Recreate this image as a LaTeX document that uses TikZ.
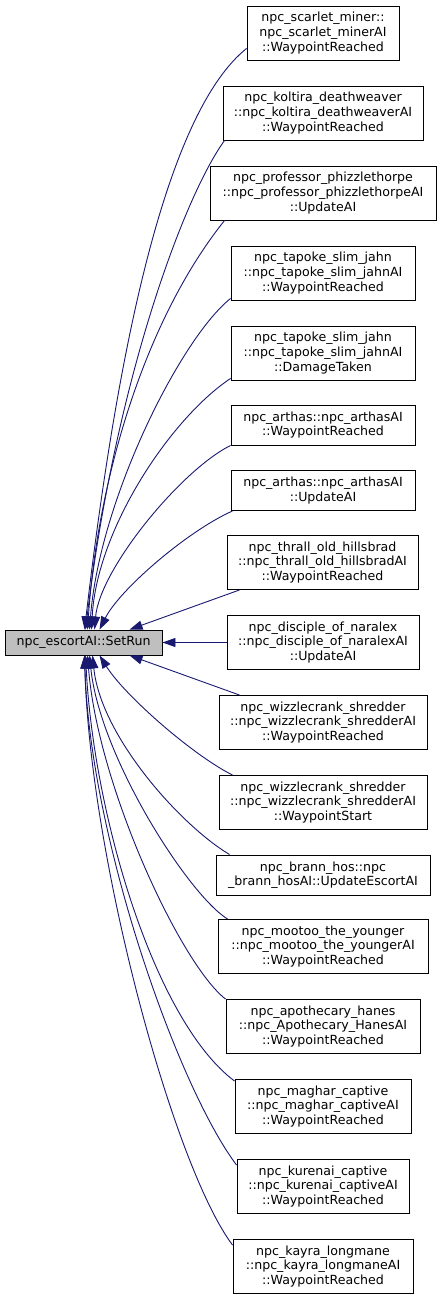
\documentclass[tikz,border=0pt]{standalone}
\usepackage{fontspec}
\setmainfont{DejaVu Sans}
\usetikzlibrary{arrows.meta,positioning}
\definecolor{cgEdge}{HTML}{191970}
\definecolor{cgRoot}{HTML}{BFBFBF}
\tikzset{
  fnnode/.style={
    draw=black, line width=0.9pt, inner sep=0pt, align=center,
    font=\fontsize{12.6}{14.6}\selectfont, minimum height=54pt
  },
  fnbox/.style={fnnode, fill=white},
  fnshort/.style={fnbox, minimum height=40pt},
  rootbox/.style={fnnode, fill=cgRoot, minimum height=25pt},
  callline/.style={cgEdge, line width=0.9pt, -{Triangle[length=13pt,width=9pt]}}
}

\begin{document}
\begin{tikzpicture}[x=1pt, y=-1pt]
  \useasboundingbox (0,0) rectangle (441,1300);
  % the called function
  \node[rootbox, minimum width=157pt] (root) at (83.5,642.5) {npc\_escortAI::SetRun};
  % callers
  \node[fnbox, minimum width=152pt] (b1) at (323,33) {npc\_scarlet\_miner::\\npc\_scarlet\_minerAI\\::WaypointReached};
  \node[fnbox, minimum width=200pt] (b2) at (323,113) {npc\_koltira\_deathweaver\\::npc\_koltira\_deathweaverAI\\::WaypointReached};
  \node[fnbox, minimum width=226pt] (b3) at (323,193) {npc\_professor\_phizzlethorpe\\::npc\_professor\_phizzlethorpeAI\\::UpdateAI};
  \node[fnbox, minimum width=184pt] (b4) at (323,273) {npc\_tapoke\_slim\_jahn\\::npc\_tapoke\_slim\_jahnAI\\::WaypointReached};
  \node[fnbox, minimum width=184pt] (b5) at (323,353) {npc\_tapoke\_slim\_jahn\\::npc\_tapoke\_slim\_jahnAI\\::DamageTaken};
  \node[fnshort, minimum width=184pt] (b6) at (323,425) {npc\_arthas::npc\_arthasAI\\::WaypointReached};
  \node[fnshort, minimum width=184pt] (b7) at (323,490.5) {npc\_arthas::npc\_arthasAI\\::UpdateAI};
  \node[fnbox, minimum width=191pt] (b8) at (322.5,562.5) {npc\_thrall\_old\_hillsbrad\\::npc\_thrall\_old\_hillsbradAI\\::WaypointReached};
  \node[fnbox, minimum width=192pt] (b9) at (323,642.5) {npc\_disciple\_of\_naralex\\::npc\_disciple\_of\_naralexAI\\::UpdateAI};
  \node[fnbox, minimum width=208pt] (b10) at (323,722.5) {npc\_wizzlecrank\_shredder\\::npc\_wizzlecrank\_shredderAI\\::WaypointReached};
  \node[fnbox, minimum width=208pt] (b11) at (323,802.5) {npc\_wizzlecrank\_shredder\\::npc\_wizzlecrank\_shredderAI\\::WaypointStart};
  \node[fnshort, minimum width=214pt] (b12) at (323,875) {npc\_brann\_hos::npc\\\_brann\_hosAI::UpdateEscortAI};
  \node[fnbox, minimum width=210pt] (b13) at (323,946.5) {npc\_mootoo\_the\_younger\\::npc\_mootoo\_the\_youngerAI\\::WaypointReached};
  \node[fnbox, minimum width=194pt] (b14) at (323,1026.5) {npc\_apothecary\_hanes\\::npc\_Apothecary\_HanesAI\\::WaypointReached};
  \node[fnbox, minimum width=176pt] (b15) at (323,1106.5) {npc\_maghar\_captive\\::npc\_maghar\_captiveAI\\::WaypointReached};
  \node[fnbox, minimum width=172pt] (b16) at (323,1186.5) {npc\_kurenai\_captive\\::npc\_kurenai\_captiveAI\\::WaypointReached};
  \node[fnbox, minimum width=180pt] (b17) at (323,1266.5) {npc\_kayra\_longmane\\::npc\_kayra\_longmaneAI\\::WaypointReached};
  % calls from above
  \draw[callline] ([yshift=12pt]b1.south west) .. controls +(-77,62) and +(35,-300) .. ([xshift=80pt]root.north west);
  \draw[callline] ([xshift=2pt]b2.south west) .. controls +(-40,55) and +(30,-250) .. ([xshift=81pt]root.north west);
  \draw[callline] ([xshift=15pt]b3.south west) .. controls +(-80,100) and +(10,-150) .. ([xshift=83pt]root.north west);
  \draw[callline] ([yshift=2pt]b4.south west) .. controls +(-50,40) and +(10,-130) .. ([xshift=85pt]root.north west);
  \draw[callline] ([yshift=2pt]b5.south west) .. controls +(-60,40) and +(5,-100) .. ([xshift=87pt]root.north west);
  \draw[callline] (b6.south west) .. controls +(-50,25) and +(5,-60) .. ([xshift=90pt]root.north west);
  \draw[callline] ([xshift=2pt]b7.south west) .. controls +(-45,20) and +(20,-40) .. ([xshift=95pt]root.north west);
  \draw[callline] ([xshift=13pt]b8.south west) -- ([xshift=125pt]root.north west);
  \draw[callline] (b9.west) -- (root.east);
  % calls from below
  \draw[callline] ([xshift=21pt]b10.north west) -- ([xshift=125pt]root.south west);
  \draw[callline] ([xshift=14pt]b11.north west) .. controls +(-40,-20) and +(25,40) .. ([xshift=95pt]root.south west);
  \draw[callline] ([xshift=14pt]b12.north west) .. controls +(-50,-30) and +(8,80) .. ([xshift=88pt]root.south west);
  \draw[callline] ([xshift=10pt]b13.north west) .. controls +(-40,-25) and +(10,100) .. ([xshift=85pt]root.south west);
  \draw[callline] (b14.north west) .. controls +(-45,-35) and +(10,130) .. ([xshift=83pt]root.south west);
  \draw[callline] ([yshift=-2pt]b15.north west) .. controls +(-80,-60) and +(8,160) .. ([xshift=81pt]root.south west);
  \draw[callline] ([yshift=-6pt]b16.north west) .. controls +(-60,-80) and +(5,180) .. ([xshift=80pt]root.south west);
  \draw[callline] ([yshift=-6pt]b17.north west) .. controls +(-60,-80) and +(5,200) .. ([xshift=80pt]root.south west);
\end{tikzpicture}
\end{document}
